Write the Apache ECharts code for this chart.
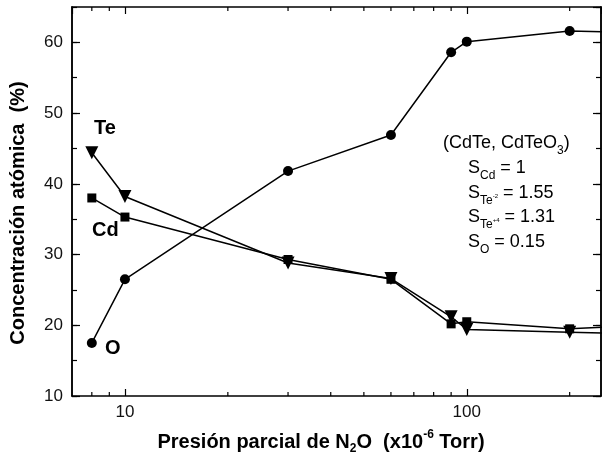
<!DOCTYPE html>
<html>
<head>
<meta charset="utf-8">
<script src="https://cdn.jsdelivr.net/npm/echarts@6/dist/echarts.min.js"></script>
<style>
html,body{margin:0;padding:0;background:#fff;}
#chart{width:602px;height:461px;}
</style>
</head>
<body>
<div id="chart"></div>
<script>
// Data (N2O partial pressure in 1e-6 Torr, atomic concentration in %)
const pressure = [8, 10, 30, 60, 90, 100, 200, 300];
const oxygen   = [17.5, 26.5, 41.8, 46.9, 58.6, 60.1, 61.6, 61.4];
const tellur   = [44.4, 38.2, 28.8, 26.6, 21.2, 19.4, 19.0, 18.8];
const cadmium  = [38.0, 35.3, 29.3, 26.5, 20.2, 20.5, 19.5, 19.9];
const yTicks = [10, 20, 30, 40, 50, 60];
const xMajorTicks = [10, 100];
const xMinorTicks = [8, 9, 20, 30, 40, 50, 60, 70, 80, 90, 200];

const chart = echarts.init(document.getElementById('chart'), null, {renderer: 'canvas'});
const FONT = '"Liberation Sans", Arial, sans-serif';
const pairs = arr => pressure.map((p, i) => [p, arr[i]]);

const axisLine = {show: true, onZero: false, lineStyle: {color: '#000', width: 1.5}};

function xAx(pos, showLabel) {
  return {
    type: 'log', logBase: 10, min: 7, max: 247, position: pos,
    axisLine: axisLine,
    axisTick: {show: true, inside: true, length: 7, lineStyle: {color: '#000', width: 1.2}},
    axisLabel: {show: showLabel, color: '#111', fontSize: 17, fontFamily: FONT, margin: 8,
      showMinLabel: false, showMaxLabel: false,
      formatter: v => xMajorTicks.indexOf(v) >= 0 ? String(v) : ''},
    splitLine: {show: false}
  };
}
function yAx(pos, showLabel, interval, len) {
  return {
    type: 'value', min: 10, max: 65, interval: interval, position: pos,
    axisLine: axisLine,
    axisTick: {show: true, inside: true, length: len, lineStyle: {color: '#000', width: 1.2}},
    axisLabel: {show: showLabel, color: '#111', fontSize: 17, fontFamily: FONT, margin: 9,
      showMaxLabel: false,
      formatter: v => yTicks.indexOf(v) >= 0 ? String(v) : ''},
    splitLine: {show: false}
  };
}

function mk(name, data, symbol, size, rot) {
  return {
    name: name, type: 'line', xAxisIndex: 0, yAxisIndex: 0, data: pairs(data),
    symbol: symbol, symbolSize: size, symbolRotate: rot || 0, showAllSymbol: true,
    clip: true,
    lineStyle: {color: '#000', width: 1.5},
    itemStyle: {color: '#000', borderColor: '#000', borderWidth: 0},
    emphasis: {disabled: true}, animation: false
  };
}

// minor ticks on log x axes (bottom and top), placed through the axis scale
const minorTickSeries = {
  type: 'custom', xAxisIndex: 0, yAxisIndex: 0, silent: true, clip: false, z: 5,
  data: xMinorTicks.map(v => [v, 10]),
  renderItem: (params, api) => {
    const p = api.coord([api.value(0), 10]);
    const cs = params.coordSys;
    const style = {stroke: '#000', lineWidth: 1.2};
    return {type: 'group', children: [
      {type: 'line', shape: {x1: p[0], y1: cs.y + cs.height, x2: p[0], y2: cs.y + cs.height - 4}, style: style},
      {type: 'line', shape: {x1: p[0], y1: cs.y, x2: p[0], y2: cs.y + 4}, style: style}
    ]};
  }
};

const option = {
  animation: false,
  backgroundColor: '#fff',
  grid: {left: 72, right: 1, top: 7, bottom: 65, containLabel: false, outerBoundsMode: 'none'},
  xAxis: [xAx('bottom', true), xAx('top', false)],
  yAxis: [yAx('left', true, 10, 8), yAx('left', false, 5, 5), yAx('right', false, 10, 8), yAx('right', false, 5, 5)],
  series: [
    mk('O', oxygen, 'circle', 10),
    mk('Te', tellur, 'triangle', 13, 180),
    mk('Cd', cadmium, 'rect', 9),
    minorTickSeries
  ],
  graphic: [
    {type: 'text', x: 18, y: 213, rotation: Math.PI / 2,
      style: {text: 'Concentración atómica  (%)', font: 'bold 20px ' + FONT, fill: '#000', align: 'center', verticalAlign: 'middle'}},
    {type: 'text', x: 321, y: 442,
      style: {text: 'Presión parcial de N{s|2}O  (x10{p|-6} Torr)', font: 'bold 20px ' + FONT, fill: '#000',
        align: 'center', verticalAlign: 'middle',
        rich: {s: {font: 'bold 12px ' + FONT, padding: [14, 0, 0, 0]}, p: {font: 'bold 12px ' + FONT, padding: [0, 0, 14, 0]}}}},
    {type: 'text', x: 94, y: 128, style: {text: 'Te', font: 'bold 20px ' + FONT, fill: '#000', verticalAlign: 'middle'}},
    {type: 'text', x: 92, y: 230, style: {text: 'Cd', font: 'bold 20px ' + FONT, fill: '#000', verticalAlign: 'middle'}},
    {type: 'text', x: 105, y: 348, style: {text: 'O', font: 'bold 20px ' + FONT, fill: '#000', verticalAlign: 'middle'}},
    {type: 'text', x: 443, y: 143,
      style: {text: '(CdTe, CdTeO{s|3})', font: '18px ' + FONT, fill: '#000', verticalAlign: 'middle',
        rich: {s: {font: '12px ' + FONT, padding: [15, 0, 0, 0]}}}},
    {type: 'text', x: 468, y: 168,
      style: {text: 'S{s|Cd} = 1', font: '18px ' + FONT, fill: '#000', verticalAlign: 'middle',
        rich: {s: {font: '12px ' + FONT, padding: [15, 0, 0, 0]}}}},
    {type: 'text', x: 468, y: 193,
      style: {text: 'S{s|Te}{t|-2} = 1.55', font: '18px ' + FONT, fill: '#000', verticalAlign: 'middle',
        rich: {s: {font: '12px ' + FONT, padding: [15, 0, 0, 0]}, t: {font: '6px ' + FONT, padding: [7, 0, 0, 0]}}}},
    {type: 'text', x: 468, y: 217,
      style: {text: 'S{s|Te}{t|+4} = 1.31', font: '18px ' + FONT, fill: '#000', verticalAlign: 'middle',
        rich: {s: {font: '12px ' + FONT, padding: [15, 0, 0, 0]}, t: {font: '6px ' + FONT, padding: [7, 0, 0, 0]}}}},
    {type: 'text', x: 468, y: 242,
      style: {text: 'S{s|O} = 0.15', font: '18px ' + FONT, fill: '#000', verticalAlign: 'middle',
        rich: {s: {font: '12px ' + FONT, padding: [15, 0, 0, 0]}}}}
  ]
};
chart.setOption(option);
</script>
</body>
</html>
